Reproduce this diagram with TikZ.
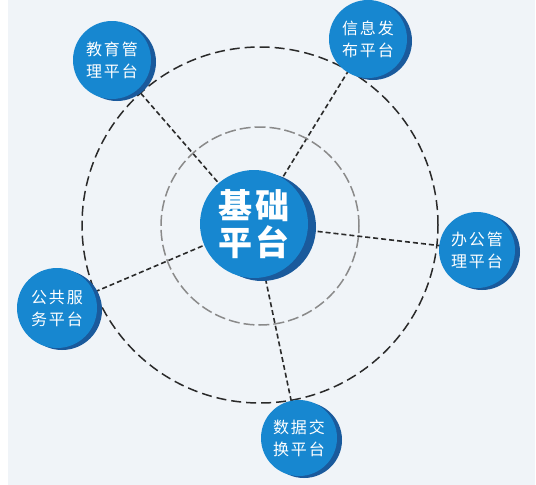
\documentclass[tikz,border=0pt]{standalone}
\usepackage{fontspec}
\newfontfamily\cjk[LetterSpace=12]{Noto Sans CJK SC}
\newfontfamily\cjkc[LetterSpace=8]{Noto Sans CJK SC}
\usetikzlibrary{backgrounds}
\definecolor{bgc}{HTML}{F0F4F8}
\definecolor{mainblue}{HTML}{1787D0}
\definecolor{shadeblue}{HTML}{1A5A9C}
\definecolor{ringdark}{HTML}{2A2A2A}
\definecolor{ringgray}{HTML}{8A8A8A}
\tikzset{
  x=1pt,y=-1pt,
  plat/.style={circle, fill=mainblue, minimum size=78pt, inner sep=0pt, text=white, align=center,
    font=\cjk\fontsize{16}{22}\selectfont},
  hub/.style={circle, fill=mainblue, minimum size=108pt, inner sep=0pt, text=white, align=center,
    font=\cjkc\bfseries\fontsize{34}{37}\selectfont},
  shade/.style={fill=shadeblue},
  link/.style={draw=ringdark, line width=1.6pt, dash pattern=on 5pt off 3pt},
  outerring/.style={draw=ringdark, line width=1.5pt, dash pattern=on 10pt off 5pt},
  innerring/.style={draw=ringgray, line width=1.5pt, dash pattern=on 11pt off 4pt}
}
\begin{document}
\begin{tikzpicture}
\useasboundingbox (0,0) rectangle (536,485);
% rings
\draw[outerring] (260,225) circle (178pt);
\draw[innerring] (260,226) circle (99pt);
% shadows
\fill[shade] (262,227) circle (54pt);
\fill[shade] (117,62) circle (39pt);
\fill[shade] (373,41) circle (39pt);
\fill[shade] (482,252) circle (38pt);
\fill[shade] (62,310) circle (40pt);
\fill[shade] (304,440) circle (38pt);
% nodes
\node[hub] (c) at (254,224) {基础\\平台};
\node[plat] (edu) at (112,60) {教育管\\理平台};
\node[plat] (info) at (368,39) {信息发\\布平台};
\node[plat, minimum size=76pt] (off) at (477,250) {办公管\\理平台};
\node[plat, minimum size=80pt] (pub) at (57,308) {公共服\\务平台};
\node[plat, minimum size=76pt] (data) at (299,438) {数据交\\换平台};
\begin{scope}[on background layer]
\fill[white] (0,0) rectangle (536,485);
\fill[bgc] (8,0) rectangle (535,485);
\draw[link] (c.center) -- (edu.center);
\draw[link] (c.center) -- (info.center);
\draw[link] (c.center) -- (off.center);
\draw[link] (c.center) -- (pub.center);
\draw[link] (c.center) -- (data.center);
\end{scope}
\end{tikzpicture}
\end{document}
